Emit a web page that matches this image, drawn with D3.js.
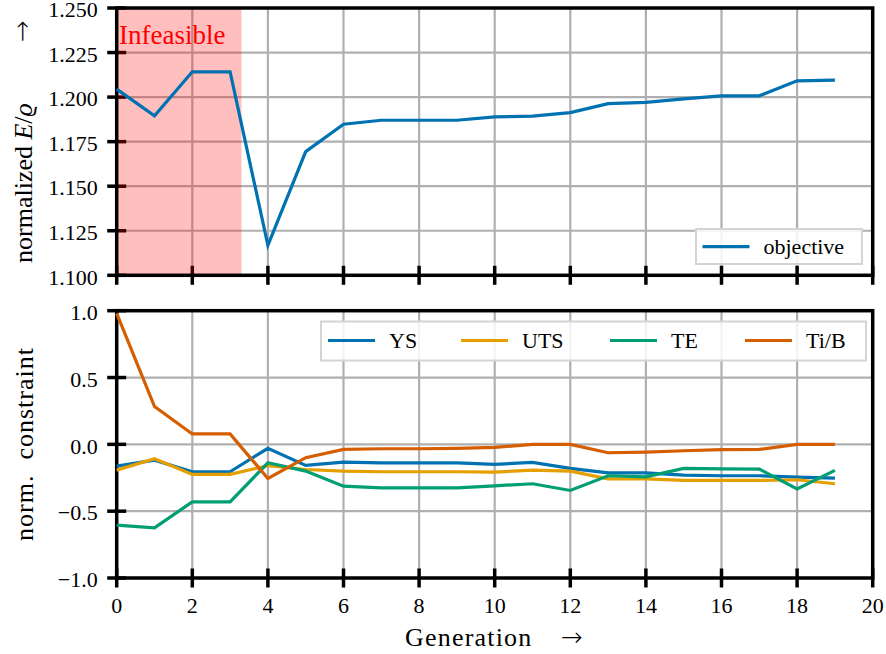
<!DOCTYPE html>
<html>
<head>
<meta charset="utf-8">
<script src="https://cdn.jsdelivr.net/npm/d3@7"></script>
<style>
  body { margin: 0; background: #fff; }
  svg { display: block; }
</style>
</head>
<body>
<svg id="chart" width="886" height="654"></svg>
<script>
// data
const generations = [0, 1, 2, 3, 4, 5, 6, 7, 8, 9, 10, 11, 12, 13, 14, 15, 16, 17, 18, 19];
const objective = [1.2045, 1.1895, 1.2142, 1.2142, 1.1168, 1.1694, 1.1848, 1.187, 1.187, 1.187,
  1.1889, 1.1893, 1.1913, 1.1963, 1.197, 1.199, 1.2007, 1.2007, 1.2091, 1.2095];
const ys = [-0.163, -0.118, -0.205, -0.205, -0.03, -0.158, -0.133, -0.138, -0.138, -0.138,
  -0.15, -0.135, -0.18, -0.213, -0.213, -0.23, -0.235, -0.235, -0.245, -0.253];
const uts = [-0.193, -0.108, -0.225, -0.225, -0.16, -0.188, -0.2, -0.205, -0.205, -0.205,
  -0.208, -0.193, -0.2, -0.258, -0.258, -0.27, -0.27, -0.27, -0.265, -0.295];
const te = [-0.605, -0.625, -0.43, -0.43, -0.138, -0.2, -0.313, -0.325, -0.325, -0.325,
  -0.31, -0.295, -0.345, -0.235, -0.243, -0.18, -0.183, -0.185, -0.333, -0.195];
const tib = [0.98, 0.283, 0.078, 0.078, -0.255, -0.1, -0.038, -0.033, -0.033, -0.03,
  -0.023, 0.0, 0.0, -0.063, -0.058, -0.048, -0.04, -0.038, 0.0, 0.0];
const constraintNames = ['YS', 'UTS', 'TE', 'Ti/B'];
const constraintColors = ['#0072B2', '#E69F00', '#009E73', '#D55E00'];
const infeasibleSpan = [0, 3.3];
const xTicks = [0, 2, 4, 6, 8, 10, 12, 14, 16, 18, 20];
const topTicks = [1.100, 1.125, 1.150, 1.175, 1.200, 1.225, 1.250];
const bottomTicks = [-1.0, -0.5, 0.0, 0.5, 1.0];

const svg = d3.select('#chart')
  .attr('font-family', 'Liberation Serif, DejaVu Serif, serif');

// layout
const left = 116.7;
const right = 872.7;
const topPanel = { y0: 8, y1: 275.3 };
const bottomPanel = { y0: 310.7, y1: 578 };
const gridColor = '#b0b0b0';
const spineWidth = 3.5;
const tickLen = 9.5;
const tickFont = 22;
const labelFont = 26;
const arrowFont = 26;

const x = d3.scaleLinear().domain([0, 20]).range([left, right]);
const yTop = d3.scaleLinear().domain([1.1, 1.25]).range([topPanel.y1, topPanel.y0]);
const yBottom = d3.scaleLinear().domain([-1, 1]).range([bottomPanel.y1, bottomPanel.y0]);

function drawGrid(g, y, yTicks, panel) {
  g.selectAll('.vgrid')
    .data(xTicks)
    .join('line')
    .attr('class', 'vgrid')
    .attr('x1', (d) => x(d))
    .attr('x2', (d) => x(d))
    .attr('y1', panel.y0)
    .attr('y2', panel.y1)
    .attr('stroke', gridColor)
    .attr('stroke-width', 2.2);

  g.selectAll('.hgrid')
    .data(yTicks)
    .join('line')
    .attr('class', 'hgrid')
    .attr('x1', left)
    .attr('x2', right)
    .attr('y1', (d) => y(d))
    .attr('y2', (d) => y(d))
    .attr('stroke', gridColor)
    .attr('stroke-width', 2.2);
}

function drawTicks(g, y, yTicks, panel, fmt, showXLabels) {
  // y ticks (in and out)
  g.selectAll('.ytick')
    .data(yTicks)
    .join('line')
    .attr('class', 'ytick')
    .attr('x1', left - tickLen)
    .attr('x2', left + tickLen)
    .attr('y1', (d) => y(d))
    .attr('y2', (d) => y(d))
    .attr('stroke', '#000')
    .attr('stroke-width', 3.5);

  g.selectAll('.ylab')
    .data(yTicks)
    .join('text')
    .attr('class', 'ylab')
    .attr('x', left - 19)
    .attr('y', (d) => y(d))
    .attr('dy', '0.42em')
    .attr('text-anchor', 'end')
    .attr('font-size', tickFont)
    .text(fmt);

  // x ticks
  g.selectAll('.xtick')
    .data(xTicks)
    .join('line')
    .attr('class', 'xtick')
    .attr('x1', (d) => x(d))
    .attr('x2', (d) => x(d))
    .attr('y1', panel.y1 - tickLen)
    .attr('y2', panel.y1 + tickLen)
    .attr('stroke', '#000')
    .attr('stroke-width', 3.5);

  if (showXLabels) {
    g.selectAll('.xlab')
      .data(xTicks)
      .join('text')
      .attr('class', 'xlab')
      .attr('x', (d) => x(d))
      .attr('y', 612.5)
      .attr('text-anchor', 'middle')
      .attr('font-size', tickFont)
      .text((d) => d);
  }
}

function drawSpines(g, panel) {
  g.append('rect')
    .attr('x', left)
    .attr('y', panel.y0)
    .attr('width', right - left)
    .attr('height', panel.y1 - panel.y0)
    .attr('fill', 'none')
    .attr('stroke', '#000')
    .attr('stroke-width', spineWidth);
}

function drawLine(g, y, values, color) {
  const line = d3
    .line()
    .x((d, i) => x(generations[i]))
    .y((d) => y(d));

  g.append('path')
    .datum(values)
    .attr('d', line)
    .attr('fill', 'none')
    .attr('stroke', color)
    .attr('stroke-width', 3.2)
    .attr('stroke-linejoin', 'miter');
}

function legendBox(g, x0, y0, w, h) {
  g.append('rect')
    .attr('x', x0)
    .attr('y', y0)
    .attr('width', w)
    .attr('height', h)
    .attr('fill', 'rgba(255,255,255,0.85)')
    .attr('stroke', '#d4d4d4')
    .attr('stroke-width', 2);
}

function legendItem(g, x0, yc, color, label) {
  g.append('line')
    .attr('x1', x0)
    .attr('x2', x0 + 47)
    .attr('y1', yc)
    .attr('y2', yc)
    .attr('stroke', color)
    .attr('stroke-width', 3.2);
  g.append('text')
    .attr('x', x0 + 61)
    .attr('y', yc)
    .attr('dy', '0.34em')
    .attr('font-size', tickFont)
    .text(label);
}

// --- top panel: objective ---
const topG = svg.append('g');
drawGrid(topG, yTop, topTicks, topPanel);
drawTicks(topG, yTop, topTicks, topPanel, (d) => d.toFixed(3), false);

// infeasible region
topG.append('rect')
  .attr('x', x(infeasibleSpan[0]))
  .attr('y', topPanel.y0)
  .attr('width', x(infeasibleSpan[1]) - x(infeasibleSpan[0]))
  .attr('height', topPanel.y1 - topPanel.y0)
  .attr('fill', '#ff0000')
  .attr('fill-opacity', 0.25);

topG.append('text')
  .attr('x', 119)
  .attr('y', 44)
  .attr('font-size', 27)
  .attr('fill', '#ff0000')
  .text('Infeasible');

drawSpines(topG, topPanel);
drawLine(topG, yTop, objective, constraintColors[0]);

legendBox(topG, 696, 229, 166, 35);
legendItem(topG, 702.5, 246.7, constraintColors[0], 'objective');

// --- bottom panel: constraints ---
const bottomG = svg.append('g');
drawGrid(bottomG, yBottom, bottomTicks, bottomPanel);
drawTicks(bottomG, yBottom, bottomTicks, bottomPanel, (d) => d3.format('.1f')(d).replace('-', '\u2212'), true);
drawSpines(bottomG, bottomPanel);

[ys, uts, te, tib].forEach((values, i) => {
  drawLine(bottomG, yBottom, values, constraintColors[i]);
});

legendBox(bottomG, 321, 321.5, 545, 39);
const legendX = [328, 461, 610, 745];
constraintNames.forEach((name, i) => {
  legendItem(bottomG, legendX[i], 340.5, constraintColors[i], name);
});

// --- axis labels ---
const topLabel = svg.append('text')
  .attr('transform', 'translate(32,263) rotate(-90)')
  .attr('font-size', labelFont);
topLabel.append('tspan').text('normalized ');
topLabel.append('tspan').attr('font-style', 'italic').text('E');
topLabel.append('tspan').text('/');
topLabel.append('tspan').attr('font-style', 'italic').text('ϱ');

svg.append('text')
  .attr('transform', 'translate(31,31) rotate(-90)')
  .attr('text-anchor', 'middle')
  .attr('font-family', 'DejaVu Sans, sans-serif')
  .attr('font-weight', 200)
  .attr('font-size', arrowFont)
  .text('→');

svg.append('text')
  .attr('transform', 'translate(33,444) rotate(-90)')
  .attr('text-anchor', 'middle')
  .attr('font-size', labelFont)
  .attr('letter-spacing', 1)
  .attr('xml:space', 'preserve')
  .text('norm.  constraint');

svg.append('text')
  .attr('x', 405)
  .attr('y', 646)
  .attr('font-size', labelFont)
  .attr('letter-spacing', 1.2)
  .text('Generation');

svg.append('text')
  .attr('x', 572)
  .attr('y', 646)
  .attr('text-anchor', 'middle')
  .attr('font-family', 'DejaVu Sans, sans-serif')
  .attr('font-weight', 200)
  .attr('font-size', arrowFont)
  .text('→');
</script>
</body>
</html>
